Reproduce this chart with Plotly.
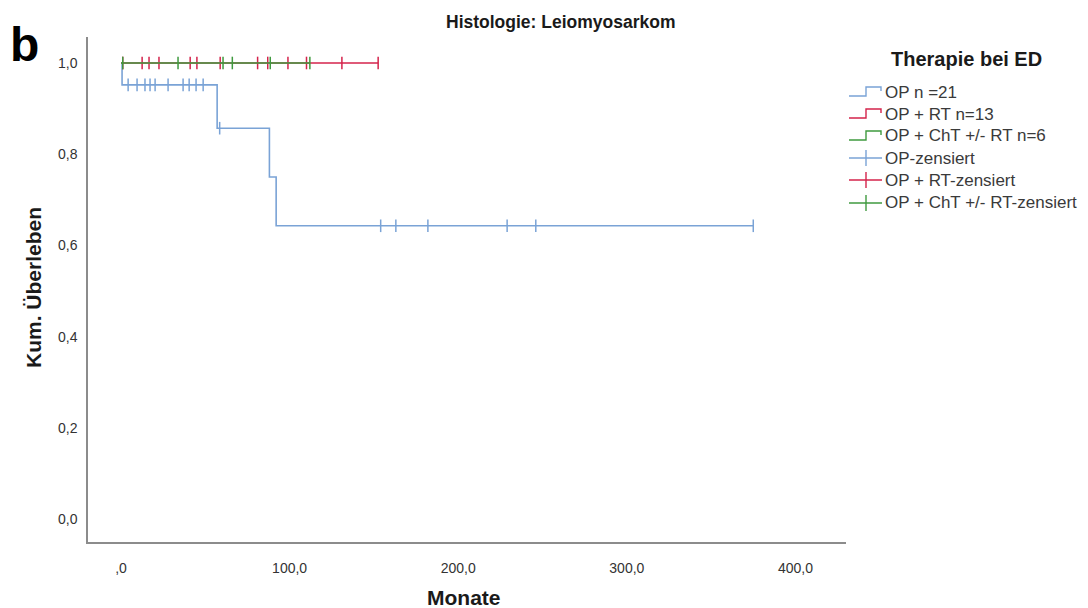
import plotly.graph_objects as go

# ---- data ----
op_step_t = [0, 0.6, 57, 88, 92, 375]
op_step_s = [1.0, 0.952, 0.857, 0.750, 0.643, 0.643]
op_cens_t = [4.2, 9.5, 14.2, 17.2, 20.2, 27.9, 36.8, 40.4, 44.5, 48.7, 58.5,
             154, 163, 182, 229, 246, 375]
op_cens_s = [0.952] * 10 + [0.857] + [0.643] * 6

rt_step_t = [0, 152.5]
rt_step_s = [1.0, 1.0]
rt_cens_t = [1.0, 12.5, 16.6, 22.5, 41, 45, 58.8, 81, 87, 99, 110, 131, 152.5]
rt_cens_s = [1.0] * 13

cht_step_t = [0, 112]
cht_step_s = [1.0, 1.0]
cht_cens_t = [1.0, 33.8, 60.5, 66, 88.5, 112]
cht_cens_s = [1.0] * 6

x_ticks = [0, 100, 200, 300, 400]
x_ticklabels = [",0", "100,0", "200,0", "300,0", "400,0"]
y_ticks = [0, 0.2, 0.4, 0.6, 0.8, 1.0]
y_ticklabels = ["0,0", "0,2", "0,4", "0,6", "0,8", "1,0"]

legend_labels = ["OP n =21", "OP + RT n=13", "OP + ChT +/- RT n=6",
                 "OP-zensiert", "OP + RT-zensiert", "OP + ChT +/- RT-zensiert"]

BLUE = "#7aa3d6"
RED = "#d4234b"
GREEN = "#3f9a3f"

# page body has an 8px margin -> figure drawn at (8, 8) in the window
OFF = 8
W, H = 1080, 600
ML = 88 - OFF
MT = 37 - OFF
MB = H - (542 - OFF)
MR = W - (846 - OFF)
PW, PH = W - ML - MR, H - MT - MB

fig = go.Figure()

def add_group(st, ss, ct, cs, color):
    fig.add_trace(go.Scatter(x=st, y=ss, mode="lines", line=dict(color=color, width=1.6, shape="hv"),
                             showlegend=False, hoverinfo="skip"))
    fig.add_trace(go.Scatter(x=ct, y=cs, mode="markers",
                             marker=dict(symbol="line-ns", size=9, line=dict(color=color, width=1.5)),
                             showlegend=False, hoverinfo="skip"))

add_group(op_step_t, op_step_s, op_cens_t, op_cens_s, BLUE)
add_group(rt_step_t, rt_step_s, rt_cens_t, rt_cens_s, RED)
add_group(cht_step_t, cht_step_s, cht_cens_t, cht_cens_s, GREEN)

# window pixel -> paper helpers
def px(p):
    return (p - OFF - ML) / PW

def py(q):
    return (H - MB - (q - OFF)) / PH

FONT = "Liberation Sans, Arial"
shapes = []
annotations = []
colors = [BLUE, RED, GREEN, BLUE, RED, GREEN]
row_y = [92, 114, 136, 158, 180, 203]
for i, (lab, col, y) in enumerate(zip(legend_labels, colors, row_y)):
    if i < 3:
        path = (f"M {px(849)},{py(y+4)} L {px(866)},{py(y+4)} L {px(866)},{py(y-5)} "
                f"L {px(881)},{py(y-5)} L {px(881)},{py(y-1)}")
        shapes.append(dict(type="path", xref="paper", yref="paper", path=path,
                           line=dict(color=col, width=1.4)))
    else:
        shapes.append(dict(type="line", xref="paper", yref="paper", x0=px(849), x1=px(882),
                           y0=py(y), y1=py(y), line=dict(color=col, width=1.4)))
        shapes.append(dict(type="line", xref="paper", yref="paper", x0=px(866), x1=px(866),
                           y0=py(y - 8), y1=py(y + 8), line=dict(color=col, width=1.4)))
    annotations.append(dict(text=lab, xref="paper", yref="paper", x=px(883), y=py(y),
                            xanchor="left", yanchor="middle", showarrow=False,
                            font=dict(family=FONT, size=17, color="#3a3a3a")))

annotations.append(dict(text="<b>Therapie bei ED</b>", xref="paper", yref="paper",
                        x=px(966), y=py(59), xanchor="center", yanchor="middle", showarrow=False,
                        font=dict(family=FONT, size=20, color="#1a1a1a")))
annotations.append(dict(text="<b>Histologie: Leiomyosarkom</b>", xref="paper", yref="paper",
                        x=px(561), y=py(22), xanchor="center", yanchor="middle", showarrow=False,
                        font=dict(family=FONT, size=17.5, color="#1a1a1a")))
annotations.append(dict(text="<b>b</b>", xref="paper", yref="paper",
                        x=px(25), y=py(44), xanchor="center", yanchor="middle", showarrow=False,
                        font=dict(family=FONT, size=48, color="#000000")))
annotations.append(dict(text="<b>Monate</b>", xref="paper", yref="paper",
                        x=px(464), y=py(597), xanchor="center", yanchor="middle", showarrow=False,
                        font=dict(family=FONT, size=21, color="#1a1a1a")))
annotations.append(dict(text="<b>Kum. Überleben</b>", xref="paper", yref="paper", textangle=-90,
                        x=px(33), y=py(288), xanchor="center", yanchor="middle", showarrow=False,
                        font=dict(family=FONT, size=21, color="#1a1a1a")))

fig.update_layout(
    width=W, height=H,
    margin=dict(l=ML, r=MR, t=MT, b=MB, autoexpand=False),
    plot_bgcolor="white", paper_bgcolor="white",
    shapes=shapes, annotations=annotations,
    showlegend=False,
    font=dict(family=FONT, color="#333333"),
)
fig.update_xaxes(range=[-19.6, 430], tickvals=x_ticks, ticktext=x_ticklabels, automargin=False,
                 showgrid=False, zeroline=False, showline=True, linecolor="#8c8c8c", linewidth=1.5,
                 ticks="", tickfont=dict(size=14, color="#333333"), ticklabelstandoff=12)
fig.update_yaxes(range=[-0.0504, 1.057], tickvals=y_ticks, ticktext=y_ticklabels, automargin=False,
                 showgrid=False, zeroline=False, showline=True, linecolor="#8c8c8c", linewidth=1.5,
                 ticks="", tickfont=dict(size=14, color="#333333"), ticklabelstandoff=6)

fig.write_html("out.html")
